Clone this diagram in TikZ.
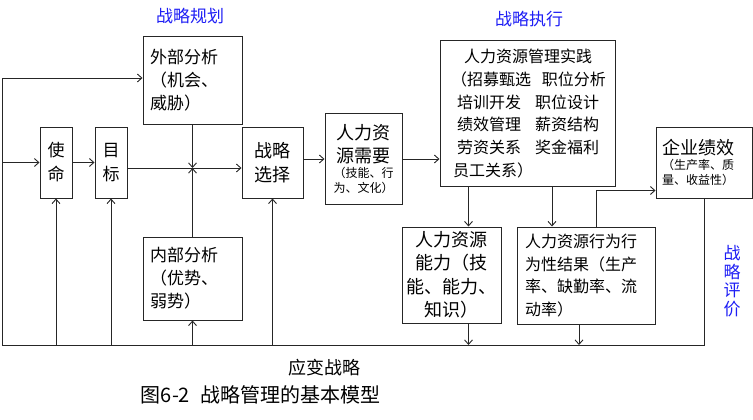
\documentclass[tikz,border=0pt]{standalone}
\usepackage{fontspec}
\setmainfont{Noto Sans CJK SC}
\usetikzlibrary{positioning,arrows}
\usetikzlibrary{arrows.meta}
\definecolor{titleblue}{RGB}{30,30,245}
\newcommand{\zhsize}[2]{\fontsize{#1}{#2}\selectfont}

\begin{document}
\begin{tikzpicture}[x=1pt,y=-1pt,
  box/.style={draw=black!85, line width=1pt, inner sep=0pt, align=center},
  link/.style={draw=black!85, line width=0.9pt, -{Straight Barb[length=4.5pt,width=8pt]}},
  line/.style={draw=black!85, line width=0.9pt},
  blue label/.style={text=titleblue, font=\zhsize{17}{23}}]
\useasboundingbox (0,0) rectangle (753,420);

\node[blue label] (plan) at (190,16) {战略规划};
\node[blue label] (exec) at (529,19) {战略执行};
\node[blue label, text width=18pt, inner sep=0pt, align=center, font=\zhsize{17}{18.5}] (eval) at (732,281) {战\\略\\评\\价};

\node[box, minimum width=99pt, minimum height=87pt, text width=85pt, align=left, font=\zhsize{17}{23}] (out) at (192.5,80.5) {外部分析\\（机会、\\威胁）};
\node[box, minimum width=99pt, minimum height=83pt, text width=85pt, align=left, font=\zhsize{17}{23}] (inn) at (192.5,278.5) {内部分析\\（优势、\\弱势）};
\node[box, minimum width=32pt, minimum height=71pt, font=\zhsize{17}{24}] (mission) at (56,162.5) {使\\命};
\node[box, minimum width=32pt, minimum height=71pt, font=\zhsize{17}{24}] (goal) at (111,162.5) {目\\标};
\node[box, minimum width=61pt, minimum height=71pt, font=\zhsize{18}{24}] (choice) at (272.5,162.5) {战略\\选择};
\node[box, minimum width=77pt, minimum height=90pt, text width=66pt] (need) at (363.5,159)
  {{\zhsize{18}{23}人力资\par 源需要\par}{\zhsize{12}{15}（技能、行\par 为、文化）\par}};
\node[box, minimum width=175pt, minimum height=145pt, text width=141pt, align=left, font=\zhsize{16}{22.8}] (practice) at (527.5,113.5)
  {\hspace*{7pt}人力资源管理实践\\\hspace*{-6pt}（招募甄选\kern11pt 职位分析\\培训开发\kern14pt 职位设计\\绩效管理\kern14pt 薪资结构\\劳资关系\kern14pt 奖金福利\\\hspace*{-4pt}员工关系）};
\node[box, minimum width=99pt, minimum height=96pt, text width=92pt, font=\zhsize{18}{23.5}] (ability) at (451.5,275)
  {人力资源\\能力（技\\能、能力、\\知识）};
\node[box, minimum width=138pt, minimum height=97pt, text width=122pt, align=left, font=\zhsize{16}{22.7}] (behavior) at (586,275.5)
  {人力资源行为行\\为性结果（生产\\率、缺勤率、流\\动率）};
\node[box, minimum width=96pt, minimum height=71pt, text width=84pt, align=left] (perf) at (704,162.5)
  {{\zhsize{18}{22}企业绩效\par}{\zhsize{12}{15}（生产率、质\par 量、收益性）\par}};

\node[font=\zhsize{18}{22}] (adapt) at (324,368) {应变战略};
\node[font=\zhsize{20}{24}] (caption) at (260.5,395) {图6-2\hspace{10pt}战略管理的基本模型};

\coordinate (top left) at (2,78);
\coordinate (bottom left) at (2,345);
\coordinate (cross) at (192.5,168);

\draw[line] (perf.south) -- (perf.south |- bottom left) -- (bottom left) -- (top left);
\draw[link] (top left) -- (top left -| out.west);
\draw[link] (bottom left |- mission.west) -- (mission.west);
\draw[link] (mission.east) -- (goal.west);
\draw[link] (goal.east |- cross) -- (choice.west |- cross);
\draw[link] (out.south) -- (cross);
\draw[link] (inn.north) -- (cross);
\foreach \n in {mission,goal,inn,choice}
  \draw[link] (\n.south |- bottom left) -- (\n.south);
\draw[link] (choice.east |- need.west) -- (need.west);
\draw[link] (need.east) -- (need.east -| practice.west);
\draw[link] ([xshift=17pt]ability.north |- practice.south) -- ([xshift=17pt]ability.north);
\draw[link] ([xshift=-34pt]behavior.north |- practice.south) -- ([xshift=-34pt]behavior.north);
\draw[link] ([xshift=10pt]behavior.north) |- ([yshift=8pt]perf.south west);
\draw[link] ([xshift=17pt]ability.south) -- ([xshift=17pt]ability.south |- bottom left);
\draw[link] ([xshift=-7pt]behavior.south) -- ([xshift=-7pt]behavior.south |- bottom left);

\end{tikzpicture}
\end{document}
